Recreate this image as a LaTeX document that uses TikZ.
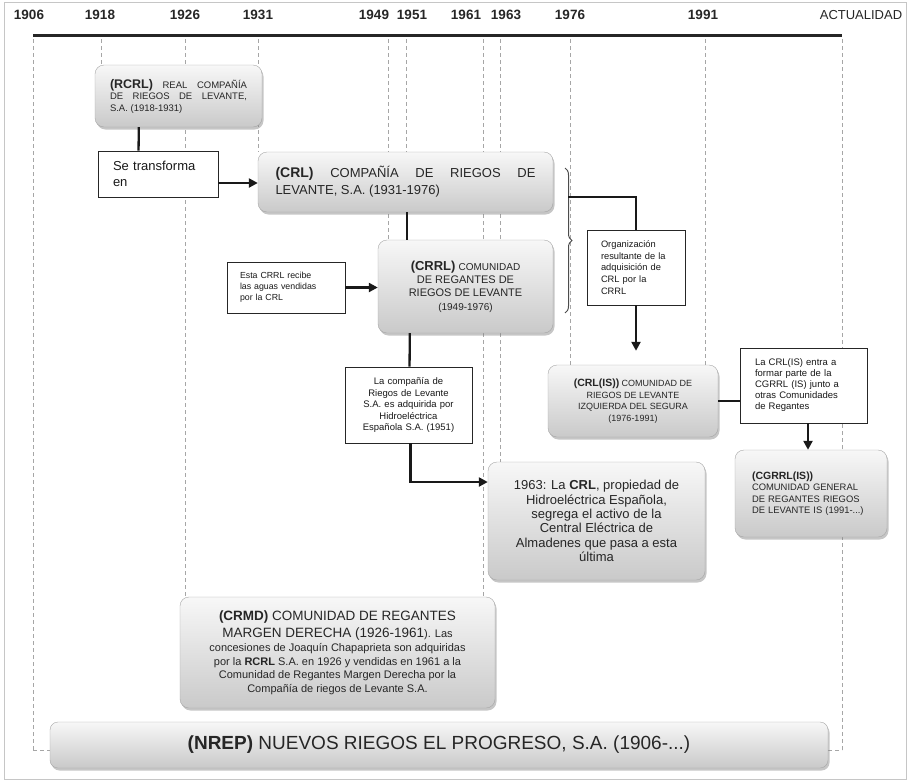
\documentclass[tikz,border=0pt]{standalone}
\usepackage{fontspec}
\setmainfont{Liberation Sans}
\usetikzlibrary{arrows.meta,shadows,decorations.pathreplacing}

\begin{document}
\begin{tikzpicture}[x=1pt,y=-1pt,
  box/.style={draw=gray!70, rounded corners=9pt, top color=gray!6, bottom color=gray!42,
    drop shadow={opacity=.45,shadow xshift=1.5pt,shadow yshift=-2.5pt}, text=black!85, inner sep=0pt},
  note/.style={draw=black!85, line width=.9pt, fill=white, inner sep=0pt, text=black!90, align=left},
  conn/.style={line width=2.3pt, black!90},
  arr/.style={conn, -{Triangle[length=9pt,width=9pt]}},
  tick/.style={gray!70, line width=.8pt, dash pattern=on 4pt off 3pt},
  year/.style={font=\fontsize{13.5}{15}\selectfont\bfseries, text=black!85}]

\useasboundingbox (0,0) rectangle (908,782);
\draw[gray!45, line width=.8pt] (4,2) rectangle (906,779);

% eje de tiempo
\draw[line width=3pt, black!85] (33,35) -- (842,35);
\foreach \xx/\ybot in {33/750,101/65,185/597,258/152,388/240,406/152,483/597,500/462,570/365,705/365,842/750}
  \draw[tick] (\xx,39) -- (\xx,\ybot);
\draw[tick] (33,750) -- (50,750);
\draw[tick] (828,750) -- (842,750);
\foreach \yr/\xx in {1906/29,1918/100,1926/185,1931/258,1949/374,1951/412,1961/466,1963/506,1976/570,1991/703}
  \node[year] at (\xx,15) {\yr};
\node[year, font=\fontsize{13}{15}\selectfont] at (861,15) {ACTUALIDAD};

% cajas
\node[box, minimum width=167pt, minimum height=62pt, align=left, font=\fontsize{9.5}{11.5}\selectfont] (rcrl) at (178.5,96)
  {\makebox[137pt][s]{{\fontsize{12.5}{11.5}\selectfont\bfseries (RCRL)} REAL COMPAÑÍA}\\\makebox[137pt][s]{DE RIEGOS DE LEVANTE,}\\S.A. (1918-1931)};
\node[note, text width=90pt, minimum width=120pt, minimum height=46pt, font=\fontsize{13}{16}\selectfont] (trans) at (158,174)
  {Se transforma\\en};
\node[box, minimum width=295pt, minimum height=60pt, align=left, font=\fontsize{13}{17}\selectfont] (crl) at (405.5,182)
  {\makebox[260pt][s]{{\fontsize{14}{17}\selectfont\bfseries (CRL)} COMPAÑÍA DE RIEGOS DE}\\LEVANTE, S.A. (1931-1976)};
\node[box, minimum width=175pt, minimum height=93pt, align=center, font=\fontsize{11}{13.3}\selectfont] (crrl) at (465.5,286.5)
  {{\fontsize{13}{13.3}\selectfont\bfseries (CRRL)} {\fontsize{10}{13}\selectfont COMUNIDAD}\\DE REGANTES DE\\RIEGOS DE LEVANTE\\{\fontsize{10}{13}\selectfont (1949-1976)}};
\node[note, text width=92pt, minimum width=118pt, minimum height=51pt, font=\fontsize{8.8}{11}\selectfont] (esta) at (286,287.5)
  {Esta CRRL recibe\\las aguas vendidas\\por la CRL};
\node[note, text width=70pt, minimum width=98pt, minimum height=75pt, font=\fontsize{9.3}{11.8}\selectfont] (org) at (636,267.5)
  {Organización\\resultante de la\\adquisición de\\CRL por la\\CRRL};
\node[box, minimum width=170pt, minimum height=72pt, align=center, font=\fontsize{9}{11.7}\selectfont] (crlis) at (633,401)
  {{\fontsize{10.5}{11.7}\selectfont\bfseries (CRL(IS))} COMUNIDAD DE\\RIEGOS DE LEVANTE\\IZQUIERDA DEL SEGURA\\(1976-1991)};
\node[note, text width=97pt, minimum width=127pt, minimum height=75pt, font=\fontsize{9.5}{11}\selectfont] (crlisnote) at (803.5,385.5)
  {La CRL(IS) entra a\\formar parte de la\\CGRRL (IS) junto a\\otras Comunidades\\de Regantes};
\node[box, text width=118pt, align=left, minimum width=152pt, minimum height=87pt, font=\fontsize{9.4}{11.5}\selectfont] (cgrrl) at (811,493.5)
  {{\fontsize{10.5}{11.5}\selectfont\bfseries (CGRRL(IS))}\\COMUNIDAD GENERAL\\DE REGANTES RIEGOS\\DE LEVANTE IS (1991-...)};
\node[note, text width=115pt, align=center, minimum width=127pt, minimum height=76pt, font=\fontsize{9.5}{11.5}\selectfont] (compania) at (408.5,405)
  {La compañía de\\Riegos de Levante\\S.A. es adquirida por\\Hidroeléctrica\\Española S.A. (1951)};
\node[box, minimum width=217pt, minimum height=118pt, align=center, font=\fontsize{13}{14.3}\selectfont] (crl63) at (596.5,521)
  {1963: La \textbf{CRL}, propiedad de\\Hidroeléctrica Española,\\segrega el activo de la\\Central Eléctrica de\\Almadenes que pasa a esta\\última};
\node[box, minimum width=315pt, minimum height=111pt, align=center, font=\fontsize{11}{13.5}\selectfont] (crmd) at (337.5,652.5)
  {{\fontsize{13.5}{17}\selectfont\textbf{(CRMD)} COMUNIDAD DE REGANTES}\\[3pt]{\fontsize{13.5}{17}\selectfont MARGEN DERECHA (1926-1961}). Las\\[1pt]concesiones de Joaquín Chapaprieta son adquiridas\\por la \textbf{RCRL} S.A. en 1926 y vendidas en 1961 a la\\Comunidad de Regantes Margen Derecha por la\\Compañía de riegos de Levante S.A.};
\node[box, rounded corners=8pt, minimum width=778pt, minimum height=46pt, font=\fontsize{19}{22}\selectfont] (nrep) at (439,745)
  {\textbf{(NREP)} NUEVOS RIEGOS EL PROGRESO, S.A. (1906-...)};

% conexiones
\draw[conn] ([xshift=44pt]rcrl.south west) -- ([xshift=41pt]trans.north west);
\draw[arr] ([yshift=-9pt]trans.east) -- ([yshift=-1pt]crl.west);
\draw[conn] ([xshift=149pt]crl.south west) -- ([xshift=29pt]crrl.north west);
\draw[arr] (esta.east) -- (esta.east -| crrl.west);
\draw[conn] ([xshift=32pt]crrl.south west) -- ([xshift=65pt]compania.north west);
\draw[arr] ([xshift=66pt]compania.south west) |- ([yshift=39pt]crl63.west);
\draw[black!70, line width=1pt, decorate, decoration={brace, amplitude=7pt}] (565,168) -- (565,313);
\coordinate (brc) at (568,197);
\draw[conn] (brc) -| (org.north);
\draw[arr, shorten >=14pt] (org.south) -- (org.south |- crlis.north);
\draw[conn] (crlis.east) -- (crlis.east -| crlisnote.west);
\draw[arr] ([xshift=4.5pt]crlisnote.south) -- ([xshift=4.5pt]crlisnote.south |- cgrrl.north);

\end{tikzpicture}
\end{document}
